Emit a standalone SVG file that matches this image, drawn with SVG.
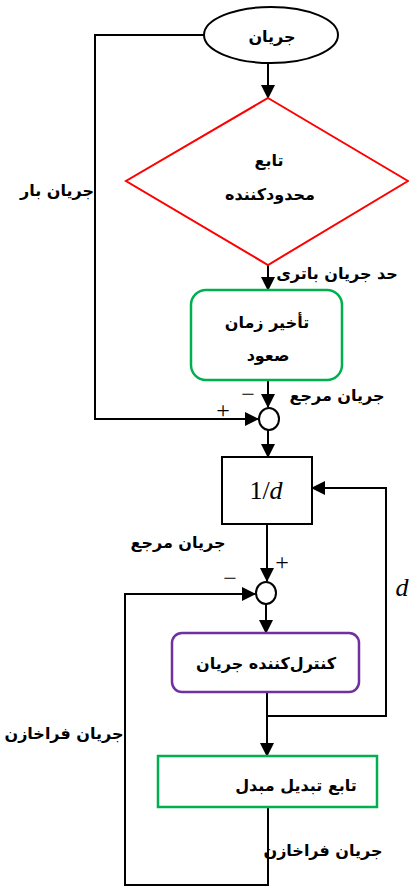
<svg xmlns="http://www.w3.org/2000/svg" width="409" height="888" viewBox="0 0 409 888">
<defs>
<marker id="ah" markerUnits="userSpaceOnUse" markerWidth="14" markerHeight="14" refX="13" refY="7" orient="auto">
<path d="M0,0 L14,7 L0,14 Z" fill="#000"/>
</marker>
<style>
.ln{fill:none;stroke:#000;stroke-width:2}
.t{font-family:"DejaVu Sans",sans-serif;font-weight:bold;font-size:16px;fill:#000;text-anchor:middle}
.m{font-family:"Liberation Serif",serif;font-size:26px;fill:#000;text-anchor:middle}
.s{font-family:"Liberation Serif",serif;font-size:24px;fill:#000;text-anchor:middle}
</style>
</defs>
<rect width="409" height="888" fill="#fff"/>
<g id="connectors">
<path class="ln" d="M268,63 L268,98" marker-end="url(#ah)"/>
<path class="ln" d="M268,265 L268,290" marker-end="url(#ah)"/>
<path class="ln" d="M268,380 L268,407" marker-end="url(#ah)"/>
<path class="ln" d="M204,35 L95,35 L95,419 L258,419" marker-end="url(#ah)"/>
<path class="ln" d="M268,430 L268,457" marker-end="url(#ah)"/>
<path class="ln" d="M267,524 L267,581" marker-end="url(#ah)"/>
<path class="ln" d="M266,604 L266,633" marker-end="url(#ah)"/>
<path class="ln" d="M267,692 L267,756" marker-end="url(#ah)"/>
<path class="ln" d="M267,716 L386,716 L386,488 L312,488" marker-end="url(#ah)"/>
<path class="ln" d="M268,807 L268,885 L125,885 L125,594 L255,594" marker-end="url(#ah)"/>
</g>
<g id="start">
<ellipse cx="271" cy="35" rx="67" ry="28" fill="#fff" stroke="#000" stroke-width="2"/>
<text class="t" x="272" y="42">جریان</text>
</g>
<g id="limiter">
<path d="M268,98 L408,181 L268,265 L126,181 Z" fill="#fff" stroke="#f00" stroke-width="2"/>
<text class="t" x="269" y="166">تابع</text>
<text class="t" x="270" y="200">محدودکننده</text>
</g>
<g id="delay">
<rect x="191" y="290" width="151" height="90" rx="15" fill="#fff" stroke="#00b050" stroke-width="2.5"/>
<text class="t" x="267" y="328">تأخیر زمان</text>
<text class="t" x="268" y="361">صعود</text>
</g>
<g id="sum1">
<ellipse cx="269" cy="419" rx="10" ry="11" fill="#fff" stroke="#000" stroke-width="2"/>
</g>
<g id="inv-d">
<rect x="222" y="457" width="90" height="67" fill="#fff" stroke="#000" stroke-width="2"/>
<text class="m" x="266" y="499">1/<tspan font-style="italic">d</tspan></text>
</g>
<g id="sum2">
<ellipse cx="266" cy="593" rx="10" ry="11" fill="#fff" stroke="#000" stroke-width="2"/>
</g>
<g id="controller">
<rect x="172" y="633" width="187" height="59" rx="10" fill="#fff" stroke="#7030a0" stroke-width="2.5"/>
<text class="t" x="266" y="669">کنترل‌کننده جریان</text>
</g>
<g id="converter">
<rect x="158" y="756" width="219" height="51" fill="#fff" stroke="#00b050" stroke-width="2.5"/>
<text class="t" x="296" y="791">تابع تبدیل مبدل</text>
</g>
<g id="labels">
<text class="t" x="57" y="196">جریان بار</text>
<text class="t" x="337" y="279">حد جریان باتری</text>
<text class="t" x="337" y="401">جریان مرجع</text>
<text class="s" x="248" y="402">−</text>
<text class="s" x="223" y="418">+</text>
<text class="t" x="178" y="548">جریان مرجع</text>
<text class="s" x="282" y="570">+</text>
<text class="s" x="230" y="586">−</text>
<text class="m" x="402" y="596" font-style="italic">d</text>
<text class="t" x="64" y="739">جریان فراخازن</text>
<text class="t" x="323" y="856">جریان فراخازن</text>
</g>
</svg>
